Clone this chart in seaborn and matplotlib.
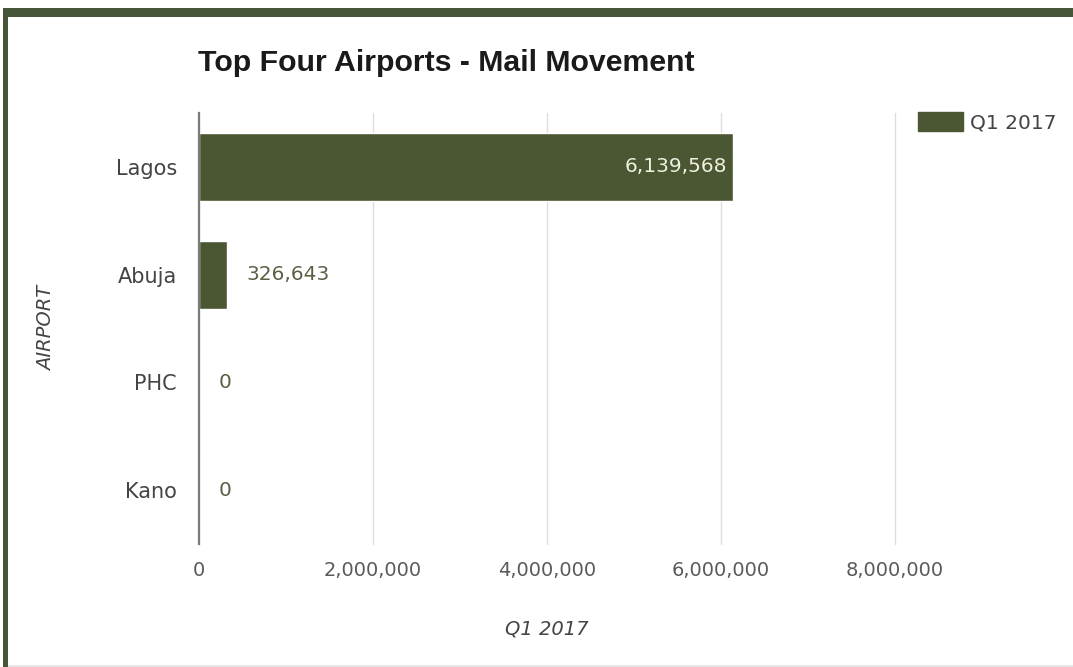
import matplotlib
matplotlib.use("Agg")
import matplotlib.pyplot as plt
from matplotlib.patches import Patch, Rectangle
from matplotlib.ticker import FuncFormatter
import seaborn as sns
import pandas as pd

# Data
airports = ["Lagos", "Abuja", "PHC", "Kano"]
mail_q1_2017 = [6139568, 326643, 0, 0]
x_ticks = [0, 2000000, 4000000, 6000000, 8000000]
series_name = "Q1 2017"
title = "Top Four Airports - Mail Movement"

BAR = "#4b5632"
FRAME = "#475538"

sns.set_theme(style="white")
plt.rcParams["font.family"] = ["DejaVu Sans"]

W, H = 1073, 667
fig = plt.figure(figsize=(W / 100, H / 100), dpi=100)
fig.patch.set_facecolor("white")

# axes placed in pixel terms
left, right, top, bottom = 199, 895, 113, 544
ax = fig.add_axes([left / W, 1 - bottom / H, (right - left) / W, (bottom - top) / H])

df = pd.DataFrame({"airport": airports, "mail": mail_q1_2017})
sns.barplot(data=df, x="mail", y="airport", orient="h", color=BAR,
            saturation=1, width=0.63, errorbar=None, ax=ax)

ax.set_xlim(0, x_ticks[-1])
ax.set_xticks(x_ticks)
ax.xaxis.set_major_formatter(FuncFormatter(lambda v, p: f"{int(v):,}"))
ax.grid(axis="x", color="#dedede", linewidth=1)
for gl in ax.get_xgridlines():
    gl.set_clip_on(False)
ax.set_axisbelow(True)
for s in ["top", "right", "bottom"]:
    ax.spines[s].set_visible(False)
ax.spines["left"].set_color("#7a7a7a")
ax.spines["left"].set_linewidth(1.6)
ax.spines["left"].set_zorder(5)
ax.tick_params(axis="both", length=0, labelsize=14, colors="#5a5a5a")
ax.tick_params(axis="y", pad=16, labelcolor="#444444", labelsize=15)
ax.tick_params(axis="x", pad=12)

ax.set_xlabel(series_name, fontsize=14, style="italic", color="#444444")
ax.set_ylabel("AIRPORT", fontsize=14, style="italic", color="#444444")
ax.xaxis.set_label_coords(0.5, -0.175)
ax.yaxis.set_label_coords(-0.205, 0.5)

# value annotations
for i, v in enumerate(mail_q1_2017):
    if v > x_ticks[-1] * 0.5:
        ax.annotate(f"{v:,}", xy=(v, i), xytext=(-4, 0), textcoords="offset points",
                    ha="right", va="center", fontsize=14.5, color="#eef0e0")
    else:
        ax.annotate(f"{v:,}", xy=(v, i), xytext=(14, 0), textcoords="offset points",
                    ha="left", va="center", fontsize=14.5, color="#5c5f45")

# title
fig.text(198 / W, 1 - 63 / H, title, fontsize=21.8, fontweight="bold",
         family="Liberation Sans", color="#1a1a1a", va="center", ha="left")

# legend
leg = ax.legend(handles=[Patch(facecolor=BAR, edgecolor=BAR, label=series_name)],
                loc="upper left", bbox_to_anchor=(918 / W, 1 - 112 / H),
                bbox_transform=fig.transFigure, frameon=False, fontsize=14.5,
                borderpad=0, borderaxespad=0, handlelength=2.25, handleheight=1.05,
                handletextpad=0.35)
for t in leg.get_texts():
    t.set_color("#444444")

# frame bands
fig.add_artist(Rectangle((3 / W, 1 - 17 / H), 1 - 3 / W, 9 / H,
                         transform=fig.transFigure, facecolor=FRAME, edgecolor="none"))
fig.add_artist(Rectangle((3 / W, 0), 5 / W, 1 - 8 / H,
                         transform=fig.transFigure, facecolor=FRAME, edgecolor="none"))
fig.add_artist(Rectangle((8 / W, 0), 1 - 8 / W, 2 / H,
                         transform=fig.transFigure, facecolor="#e6e6e6", edgecolor="none"))

fig.savefig("out.png", dpi=100)
